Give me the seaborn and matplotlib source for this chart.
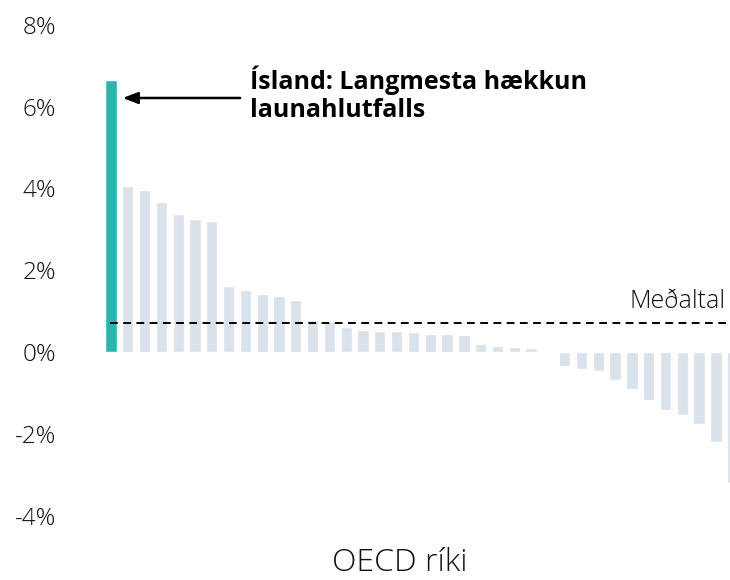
import numpy as np
import pandas as pd
import seaborn as sns
from matplotlib import pyplot as plt

# launahlutfall, breyting (%-stig), raðað frá hæstu til lægstu
LAND = ['Ísland'] + [f'Land {i}' for i in range(2, 39)]
BREYTING = [
    6.65, 4.06, 3.96, 3.66, 3.38, 3.25, 3.20,
    1.61, 1.52, 1.42, 1.37, 1.27,
    0.79, 0.73, 0.62, 0.54, 0.51, 0.51, 0.48, 0.45, 0.45, 0.41,
    0.19, 0.15, 0.13, 0.11, 0.0,
    -0.34, -0.42, -0.46, -0.69, -0.90, -1.18, -1.41, -1.53, -1.76, -2.20, -3.21,
]
Y_TICKS = [-4, -2, 0, 2, 4, 6, 8]

TEAL = '#2bb5af'
GREY = '#d9e1ea'

sns.set_style('white')
plt.rcParams['font.family'] = ['Open Sans', 'DejaVu Sans']

df = pd.DataFrame({'land': LAND, 'breyting': BREYTING})
medaltal = df['breyting'].mean()
litir = [TEAL] + [GREY] * (len(LAND) - 1)

fig = plt.figure(figsize=(7.3, 5.8), dpi=100)
ax = fig.add_axes([62 / 730, 0.0898, 668 / 730, 0.8816])

sns.barplot(data=df, x='land', y='breyting', hue='land', palette=litir,
            legend=False, width=0.67, saturation=1, ax=ax)

ax.set_xlim(-2.92, 36.84)
ax.set_ylim(-4.3, 8.2)
ax.set_yticks(Y_TICKS)
ax.set_yticklabels([f'{t}%' for t in Y_TICKS], fontsize=17.5, fontweight='light', color='#111111')
ax.tick_params(axis='y', length=0, pad=4)
ax.set_xticks([])
ax.set_xlabel('')
ax.set_ylabel('')
sns.despine(ax=ax, left=True, bottom=True)

# meðaltal
ax.plot([-0.05, 36.84], [medaltal, medaltal], color='black', lw=1.4,
        linestyle=(0, (4, 2.8)), clip_on=False)
ax.text(36.55, medaltal + 0.2, 'Meðaltal', ha='right', va='bottom',
        fontsize=18, fontweight='light', color='#111111')

# ör að Íslandi
ax.annotate('', xy=(0.7, 6.21), xytext=(7.68, 6.21),
            arrowprops=dict(arrowstyle='-|>,head_length=0.9,head_width=0.35', color='black',
                            lw=1.8, shrinkA=0, shrinkB=0))
ax.text(8.27, 6.3, 'Ísland: Langmesta hækkun\nlaunahlutfalls', ha='left', va='center',
        fontsize=18, fontweight='bold', linespacing=1.2, color='black')

fig.text(400 / 730, 1 - 563 / 580, 'OECD ríki', ha='center', va='center',
         fontsize=23, fontweight='light', color='#111111')

plt.savefig('out.png', dpi=100)
